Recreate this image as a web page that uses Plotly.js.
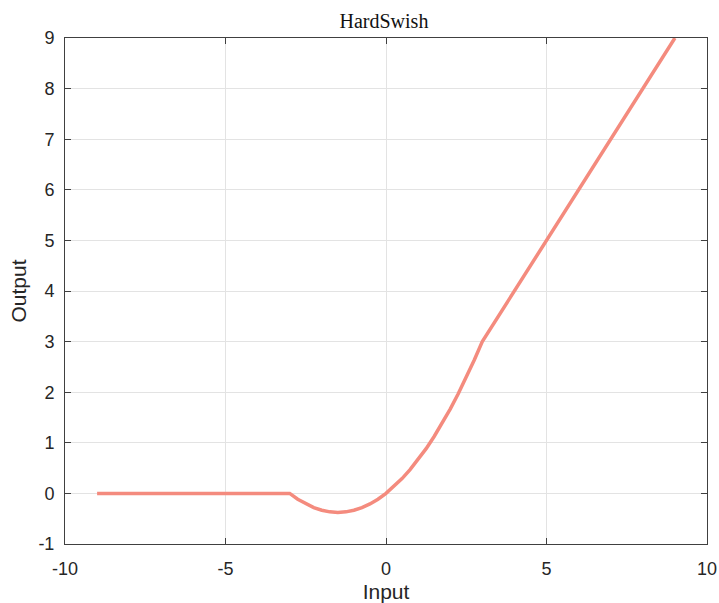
<!DOCTYPE html>
<html>
<head>
<meta charset="utf-8">
<script src="https://cdn.plot.ly/plotly-3.0.1.min.js"></script>
<style>html,body{margin:0;padding:0;background:#fff;}#chart{width:719px;height:603px;}</style>
</head>
<body>
<div id="chart"></div>
<script>
var inputX = [-9, -3, -2.75, -2.5, -2.25, -2, -1.75, -1.5, -1.25, -1, -0.75, -0.5, -0.25, 0,
  0.25, 0.5, 0.75, 1, 1.25, 1.5, 1.75, 2, 2.25, 2.5, 2.75, 3, 9];
var outputY = [0, 0, -0.115, -0.208, -0.281, -0.333, -0.365, -0.375, -0.365, -0.333, -0.281, -0.208, -0.115, 0,
  0.135, 0.292, 0.469, 0.667, 0.885, 1.125, 1.385, 1.667, 1.969, 2.292, 2.635, 3, 9];
var xTicks = [-10, -5, 0, 5, 10];
var yTicks = [-1, 0, 1, 2, 3, 4, 5, 6, 7, 8, 9];

var axisCommon = {
  showline: true, mirror: 'ticks', linecolor: '#404040', linewidth: 1,
  ticks: 'inside', ticklen: 6, tickcolor: '#404040', tickwidth: 1,
  showgrid: true, gridcolor: '#e3e3e3', gridwidth: 1, zeroline: false,
  tickfont: {family: 'Liberation Sans, Arial, sans-serif', size: 18, color: '#262626'}
};

var trace = {
  x: inputX, y: outputY, type: 'scatter', mode: 'lines',
  line: {color: '#f48b7e', width: 3.5}, hoverinfo: 'skip'
};

var layout = {
  width: 719, height: 603,
  margin: {l: 65, r: 12, t: 38, b: 59},
  paper_bgcolor: '#ffffff', plot_bgcolor: '#ffffff',
  showlegend: false,
  title: {text: 'HardSwish', x: 0.534, xanchor: 'center', y: 0.965, yanchor: 'middle',
    font: {family: 'Liberation Serif, Times New Roman, serif', size: 20, color: '#111'}},
  xaxis: Object.assign({}, axisCommon, {
    range: [-10, 10], tickvals: xTicks, ticktext: xTicks.map(String),
    ticklabelstandoff: 8,
    title: {text: 'Input', standoff: 6, font: {family: 'Liberation Sans, Arial, sans-serif', size: 21, color: '#262626'}}
  }),
  yaxis: Object.assign({}, axisCommon, {
    range: [-1, 9], tickvals: yTicks, ticktext: yTicks.map(String),
    ticklabelstandoff: 6,
    title: {text: 'Output', standoff: 6, font: {family: 'Liberation Sans, Arial, sans-serif', size: 21, color: '#262626'}}
  })
};

Plotly.newPlot('chart', [trace], layout, {displayModeBar: false, staticPlot: true});
</script>
</body>
</html>
